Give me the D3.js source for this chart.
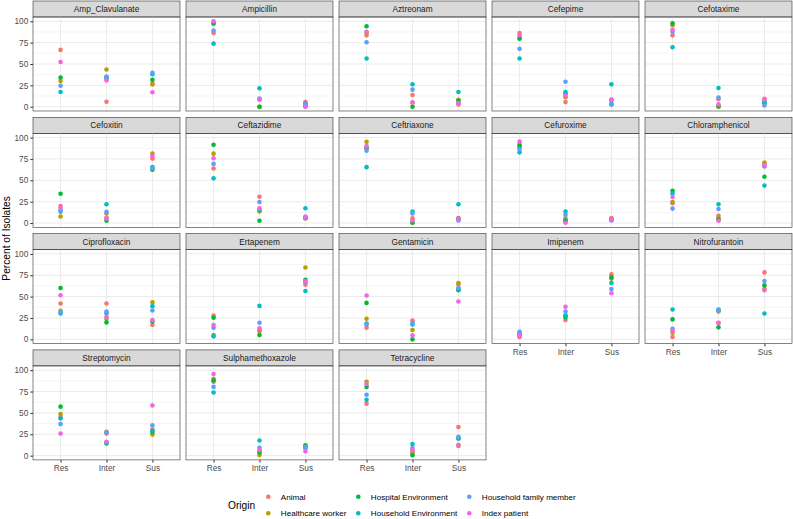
<!DOCTYPE html>
<html>
<head>
<meta charset="utf-8">
<script src="https://cdn.jsdelivr.net/npm/d3@7"></script>
<style>
  body { margin: 0; background: #fff; }
  svg { font-family: "Liberation Sans", Arial, sans-serif; }
  .grid line { stroke: #ebebeb; }
  .axis text { fill: #4d4d4d; font-size: 8.3px; }
  .axis line { stroke: #333; }
  .axis path { display: none; }
</style>
</head>
<body>
<svg id="chart"></svg>
<script>
// antibiotics, one facet each
const drugs = ["Amp_Clavulanate", "Ampicillin", "Aztreonam", "Cefepime", "Cefotaxime",
  "Cefoxitin", "Ceftazidime", "Ceftriaxone", "Cefuroxime", "Chloramphenicol",
  "Ciprofloxacin", "Ertapenem", "Gentamicin", "Imipenem", "Nitrofurantoin",
  "Streptomycin", "Sulphamethoxazole", "Tetracycline"];
const levels = ["Res", "Inter", "Sus"];
const origins = ["Animal", "Healthcare worker", "Hospital Environment",
  "Household Environment", "Household family member", "Index patient"];
const yTicks = [0, 25, 50, 75, 100];

// percent of isolates per drug: [Res, Inter, Sus]
const animal = [[66.5, 5.8, 27.3], [86.2, 8.1, 5.4], [83.5, 13.8, 2.7], [86.2, 5.4, 8.5], [83.5, 8.8, 9.2],
  [20, 6.2, 75.4], [63.8, 30.8, 5.4], [87.3, 5.4, 5.8], [88.8, 5.4, 5.8], [23.1, 8.5, 69.2],
  [41.9, 41.9, 16.7], [27.9, 9.7, 64], [13.6, 22.1, 64.3], [2.7, 22.5, 76], [2.7, 19.4, 78.3],
  [45, 25.8, 30.4], [86.5, 5.8, 8.5], [60.8, 5, 33.5]];
const healthcare = [[30, 43.5, 26], [96.9, 0, 2.7], [86.5, 5, 8.1], [80.8, 11.2, 7.5], [95.4, 0, 5.4],
  [7.7, 11.2, 81.2], [81.2, 13.5, 6], [95, 0.4, 5], [92.3, 1.9, 4], [24.6, 5.8, 70.8],
  [33.3, 24, 43.4], [5, 10.5, 84.1], [24, 10.9, 65.9], [4, 27.1, 71], [7.8, 32.6, 59.3],
  [48.8, 28, 24.6], [89.6, 0.8, 12.3], [86.5, 2.7, 11.2]];
const hospital = [[34.2, 33.5, 31.5], [98, 0, 0.5], [94.2, 0, 6.9], [79.6, 15.4, 3], [97.7, 0.5, 4],
  [34.2, 2.7, 62.3], [91.5, 2.7, 6], [88, 0.5, 5], [90, 3, 4], [37.7, 4, 54.2],
  [60.1, 19.8, 20.9], [25.2, 5, 69.8], [42.6, 0, 57.4], [5.8, 26, 72.5], [23.3, 14, 63.2],
  [57.3, 14.2, 27.7], [88, 3.8, 11.2], [80.4, 0.4, 20]];
const householdEnv = [[17.3, 34, 38], [73.8, 21.5, 4], [56.5, 26.2, 17.3], [56.5, 17.3, 26.2], [69.6, 21.9, 6],
  [14.6, 21.9, 65.4], [52.3, 15, 17.3], [65.4, 13.5, 21.9], [82.7, 13.5, 4], [34.6, 21.9, 43.8],
  [30.2, 30.6, 38.8], [3.5, 39.1, 56.6], [18.6, 17.4, 59], [7.4, 28, 65.9], [34.9, 34.9, 30.2],
  [43.5, 15.4, 29], [73.8, 17.7, 10], [65.4, 13.5, 20]];
const householdFam = [[24.6, 35.4, 39.6], [89.2, 9.6, 3], [75.4, 20, 4], [67.7, 29.2, 2.7], [87.7, 10.8, 1.5],
  [13.1, 13, 64.2], [69.2, 24.6, 6], [84.6, 11.2, 3.1], [86.5, 9.6, 3.1], [16.9, 16.5, 66.2],
  [31.8, 32.6, 33.7], [13.6, 19.4, 66.7], [17.4, 19, 60.1], [8.9, 32.6, 58.9], [12.4, 33.8, 68.2],
  [36.9, 27, 35.4], [80.4, 9.2, 10], [71.2, 8.8, 21.9]];
const indexPatient = [[52.3, 30.8, 16.9], [100, 8.8, 0], [87.7, 5, 4.2], [84, 13, 8], [90, 2.7, 8.5],
  [17.7, 5.4, 78.5], [75.8, 17.3, 7.7], [90, 3, 5], [95.4, 0.4, 4.5], [30.4, 2.7, 68],
  [51.6, 26.4, 22.5], [16.7, 12.8, 68.2], [51.2, 4.7, 44.2], [4.5, 38, 53.9], [10, 19, 57.4],
  [25.8, 16.2, 58.8], [95.4, 6.5, 5], [83.8, 6.5, 12.7]];

const series = [animal, healthcare, hospital, householdEnv, householdFam, indexPatient];
const colors = ["#F8766D", "#B79F00", "#00BA38", "#00BFC4", "#619CFF", "#F564E3"];

const width = 793, height = 519;
const ncol = 5;
const left0 = 33, colStep = 153, panelW = 147;
const top0 = 1, rowStep = 116.3, stripH = 16, panelH = 94;

const svg = d3.select("#chart").attr("width", width).attr("height", height);

const x = d3.scalePoint().domain(levels).range([0, panelW]).padding(0.6);
const y = d3.scaleLinear().domain([-5, 105]).range([panelH, 0]);
const color = d3.scaleOrdinal().domain(origins).range(colors);

// flatten to long rows
const rows = [];
drugs.forEach((drug, i) => {
  series.forEach((s, j) => {
    levels.forEach((lv, k) => rows.push({drug, origin: origins[j], level: lv, value: s[i][k]}));
  });
});

drugs.forEach((drug, i) => {
  const col = i % ncol, row = Math.floor(i / ncol);
  const g = svg.append("g")
    .attr("transform", `translate(${left0 + col * colStep},${top0 + row * rowStep})`);

  // strip
  g.append("rect")
    .attr("width", panelW).attr("height", stripH)
    .attr("fill", "#d9d9d9").attr("stroke", "#333").attr("stroke-width", 0.6);
  g.append("text")
    .attr("x", panelW / 2).attr("y", stripH / 2 + 3)
    .attr("text-anchor", "middle").attr("font-size", 8.3).attr("fill", "#1a1a1a")
    .text(drug);

  const p = g.append("g").attr("transform", `translate(0,${stripH})`);

  // grid
  const grid = p.append("g").attr("class", "grid");
  const minor = d3.range(12.5, 100, 25);
  grid.selectAll(".minor").data(minor).join("line")
    .attr("x1", 0).attr("x2", panelW)
    .attr("y1", d => y(d)).attr("y2", d => y(d))
    .attr("stroke-width", 0.5);
  grid.selectAll(".major").data(yTicks).join("line")
    .attr("x1", 0).attr("x2", panelW)
    .attr("y1", d => y(d)).attr("y2", d => y(d))
    .attr("stroke-width", 1);
  grid.selectAll(".vert").data(levels).join("line")
    .attr("x1", d => x(d)).attr("x2", d => x(d))
    .attr("y1", 0).attr("y2", panelH)
    .attr("stroke-width", 1);

  // points
  p.selectAll(".pt")
    .data(rows.filter(d => d.drug === drug))
    .join("circle")
    .attr("class", "pt")
    .attr("cx", d => x(d.level))
    .attr("cy", d => y(d.value))
    .attr("r", 2.3)
    .attr("fill", d => color(d.origin));

  p.append("rect")
    .attr("width", panelW).attr("height", panelH)
    .attr("fill", "none").attr("stroke", "#333").attr("stroke-width", 0.6);

  // y axis on first column only
  if (col === 0) {
    p.append("g").attr("class", "axis")
      .call(d3.axisLeft(y).tickValues(yTicks).tickSize(2.7).tickPadding(2));
  }
  // x axis where no panel sits below
  if (i + ncol >= drugs.length) {
    p.append("g").attr("class", "axis")
      .attr("transform", `translate(0,${panelH})`)
      .call(d3.axisBottom(x).tickSize(2.7).tickPadding(2.5));
  }
});

// y title
svg.append("text")
  .attr("transform", `translate(10,${top0 + (4 * rowStep - 6.3) / 2 + 8}) rotate(-90)`)
  .attr("text-anchor", "middle").attr("font-size", 10.2).attr("fill", "#000")
  .text("Percent of Isolates");

// legend
const leg = svg.append("g");
leg.append("text").attr("x", 228).attr("y", 508.5).attr("font-size", 10.2).text("Origin");
const legX = [268.3, 358.3, 469.3], legY = [496.7, 513.3];
origins.forEach((o, i) => {
  const cx = legX[Math.floor(i / 2)], cy = legY[i % 2];
  leg.append("circle").attr("cx", cx).attr("cy", cy).attr("r", 2.3).attr("fill", colors[i]);
  leg.append("text").attr("x", cx + 12.5).attr("y", cy + 3)
    .attr("font-size", 8.1).attr("fill", "#000").text(o);
});
</script>
</body>
</html>
